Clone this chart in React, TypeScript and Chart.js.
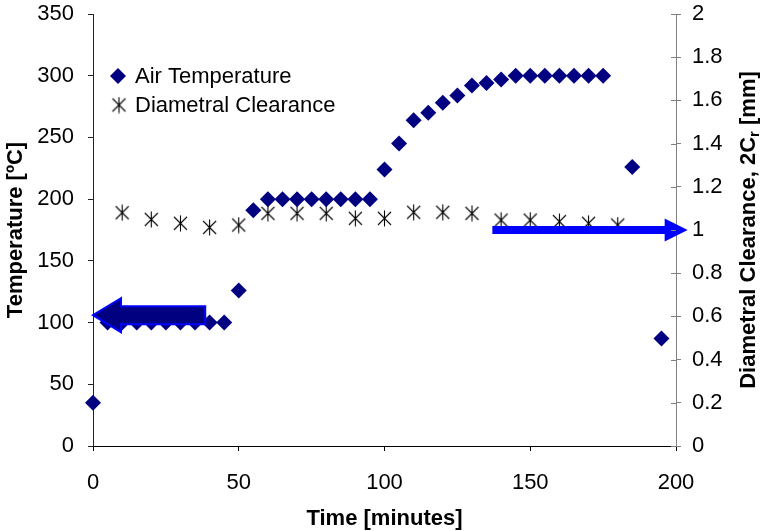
import React, { useEffect, useRef } from 'react';
import { Chart, registerables } from 'chart.js';

Chart.register(...registerables);

// ---- Data ----
const tempTimes = [0, 5, 10, 15, 20, 25, 30, 35, 40, 45, 50, 55, 60, 65, 70, 75, 80, 85, 90, 95, 100, 105, 110, 115, 120, 125, 130, 135, 140, 145, 150, 155, 160, 165, 170, 175, 185, 195];
const airTemperature = [35, 100, 100, 100, 100, 100, 100, 100, 100, 100, 126, 191, 200, 200, 200, 200, 200, 200, 200, 200, 224, 245, 264, 270, 278, 284, 292, 294, 297, 300, 300, 300, 300, 300, 300, 300, 226, 87];

const clearanceTimes = [10, 20, 30, 40, 50, 60, 70, 80, 90, 100, 110, 120, 130, 140, 150, 160, 170, 180];
const diametralClearance = [1.08, 1.049, 1.031, 1.012, 1.023, 1.077, 1.077, 1.077, 1.054, 1.054, 1.082, 1.082, 1.077, 1.046, 1.046, 1.039, 1.031, 1.023];

const seriesLabels = ['Air Temperature', 'Diametral Clearance'];

const xTickValues = [0, 50, 100, 150, 200];
const xTickLabels = ['0', '50', '100', '150', '200'];
const tempTickValues = [0, 50, 100, 150, 200, 250, 300, 350];
const tempTickLabels = ['0', '50', '100', '150', '200', '250', '300', '350'];
const clearTickValues = [0, 0.2, 0.4, 0.6, 0.8, 1, 1.2, 1.4, 1.6, 1.8, 2];
const clearTickLabels = ['0', '0.2', '0.4', '0.6', '0.8', '1', '1.2', '1.4', '1.6', '1.8', '2'];

const xTitle = 'Time [minutes]';
const yTitle = 'Temperature [ºC]';
const y1TitleParts = ['Diametral Clearance, 2C', 'r', ' [mm]'];

// Annotation arrows (in data units)
const leftArrow = { from: 38.5, to: 0, value: 106 }; // on temperature axis
const rightArrow = { from: 137, to: 204, value: 1.0 }; // on clearance axis

const FONT = '"Liberation Sans", Arial, Helvetica, sans-serif';
const NAVY = '#000080';

function makeAsterisk(): HTMLCanvasElement {
  const c = document.createElement('canvas');
  const s = 17;
  c.width = s;
  c.height = s;
  const g = c.getContext('2d')!;
  g.strokeStyle = '#000000';
  g.lineWidth = 1.1;
  g.beginPath();
  g.moveTo(2, 2); g.lineTo(15, 15);
  g.moveTo(15, 2); g.lineTo(2, 15);
  g.moveTo(8.5, 0.5); g.lineTo(8.5, 16.5);
  g.stroke();
  return c;
}

function drawDiamond(ctx: CanvasRenderingContext2D, x: number, y: number, r: number) {
  ctx.beginPath();
  ctx.moveTo(x, y - r);
  ctx.lineTo(x + r, y);
  ctx.lineTo(x, y + r);
  ctx.lineTo(x - r, y);
  ctx.closePath();
  ctx.fillStyle = NAVY;
  ctx.fill();
}

const annotPlugin = {
  id: 'annotations',
  afterDatasetsDraw(chart: any) {
    const { ctx, scales } = chart;
    const xs = scales.x, ys = scales.y, y1s = scales.y1;
    ctx.save();
    // Left arrow (navy fill, blue outline)
    {
      const tipX = xs.getPixelForValue(leftArrow.to);
      const tailX = xs.getPixelForValue(leftArrow.from);
      const cy = ys.getPixelForValue(leftArrow.value);
      const headBase = tipX + 28;
      const bh = 9, hh = 17;
      ctx.beginPath();
      ctx.moveTo(tipX, cy);
      ctx.lineTo(headBase, cy - hh);
      ctx.lineTo(headBase, cy - bh);
      ctx.lineTo(tailX, cy - bh);
      ctx.lineTo(tailX, cy + bh);
      ctx.lineTo(headBase, cy + bh);
      ctx.lineTo(headBase, cy + hh);
      ctx.closePath();
      ctx.fillStyle = NAVY;
      ctx.fill();
      ctx.strokeStyle = '#0000FF';
      ctx.lineWidth = 2;
      ctx.lineJoin = 'miter';
      ctx.stroke();
    }
    // Right arrow (blue)
    {
      const tipX = xs.getPixelForValue(rightArrow.to);
      const tailX = xs.getPixelForValue(rightArrow.from);
      const cy = y1s.getPixelForValue(rightArrow.value);
      const headBase = tipX - 23;
      const bh = 4, hh = 11.5;
      ctx.beginPath();
      ctx.moveTo(tipX, cy);
      ctx.lineTo(headBase, cy - hh);
      ctx.lineTo(headBase, cy - bh);
      ctx.lineTo(tailX, cy - bh);
      ctx.lineTo(tailX, cy + bh);
      ctx.lineTo(headBase, cy + bh);
      ctx.lineTo(headBase, cy + hh);
      ctx.closePath();
      ctx.fillStyle = '#0000FF';
      ctx.fill();
    }
    ctx.restore();
  },
  afterDraw(chart: any) {
    const { ctx, scales, chartArea } = chart;
    const y1s = scales.y1;
    ctx.save();
    // inner half of right axis ticks
    ctx.strokeStyle = '#808080';
    ctx.lineWidth = 1;
    ctx.beginPath();
    for (const v of clearTickValues) {
      const py = Math.round(y1s.getPixelForValue(v)) + 0.5;
      ctx.moveTo(chartArea.right - 5, py);
      ctx.lineTo(chartArea.right, py);
    }
    ctx.stroke();

    ctx.fillStyle = '#000';
    // X title
    ctx.font = `bold 22px ${FONT}`;
    ctx.textAlign = 'center';
    ctx.textBaseline = 'alphabetic';
    ctx.fillText(xTitle, (chartArea.left + chartArea.right) / 2, 525);
    // Left title
    const cy = (chartArea.top + chartArea.bottom) / 2;
    ctx.save();
    ctx.translate(22, cy);
    ctx.rotate(-Math.PI / 2);
    ctx.fillText(yTitle, 0, 0);
    ctx.restore();
    // Right title with subscript
    ctx.save();
    ctx.translate(755, cy);
    ctx.rotate(-Math.PI / 2);
    const mainFont = `bold 22px ${FONT}`;
    const subFont = `bold 15px ${FONT}`;
    ctx.font = mainFont;
    const w0 = ctx.measureText(y1TitleParts[0]).width;
    const w2 = ctx.measureText(y1TitleParts[2]).width;
    ctx.font = subFont;
    const w1 = ctx.measureText(y1TitleParts[1]).width;
    const total = w0 + w1 + w2;
    let px = -total / 2;
    ctx.textAlign = 'left';
    ctx.font = mainFont;
    ctx.fillText(y1TitleParts[0], px, 0);
    px += w0;
    ctx.font = subFont;
    ctx.fillText(y1TitleParts[1], px, 4);
    px += w1;
    ctx.font = mainFont;
    ctx.fillText(y1TitleParts[2], px, 0);
    ctx.restore();

    // Legend
    ctx.font = `22px ${FONT}`;
    ctx.textAlign = 'left';
    ctx.textBaseline = 'middle';
    drawDiamond(ctx, 118, 76, 8);
    ctx.fillStyle = '#000';
    ctx.fillText(chart.data.datasets[0].label, 135, 77);
    const ast = chart.data.datasets[1].pointStyle;
    ctx.drawImage(ast, 119 - ast.width / 2, 105 - ast.height / 2);
    ctx.fillText(chart.data.datasets[1].label, 135, 106);
    ctx.restore();
  },
};

export default function App() {
  const canvasRef = useRef<HTMLCanvasElement | null>(null);

  useEffect(() => {
    document.body.style.margin = '0';
    const canvas = canvasRef.current!;
    const asterisk = makeAsterisk();
    const tickFont = { family: FONT, size: 22 };

    const chart = new Chart(canvas, {
      type: 'scatter',
      data: {
        datasets: [
          {
            label: seriesLabels[0],
            data: tempTimes.map((t, i) => ({ x: t, y: airTemperature[i] })),
            yAxisID: 'y',
            pointStyle: 'rectRot',
            pointRadius: 8,
            pointBackgroundColor: NAVY,
            pointBorderColor: NAVY,
            pointBorderWidth: 0,
            showLine: false,
            clip: false as any,
          },
          {
            label: seriesLabels[1],
            data: clearanceTimes.map((t, i) => ({ x: t, y: diametralClearance[i] })),
            yAxisID: 'y1',
            pointStyle: asterisk as any,
            pointRadius: 8,
            showLine: false,
            clip: false as any,
          },
        ],
      },
      options: {
        responsive: false,
        animation: false,
        events: [],
        layout: { padding: { top: 14, right: 0, left: 0, bottom: 0 } },
        plugins: { legend: { display: false }, tooltip: { enabled: false } },
        scales: {
          x: {
            type: 'linear',
            min: 0,
            max: 200,
            afterBuildTicks: (s: any) => { s.ticks = xTickValues.map((v) => ({ value: v })); },
            afterFit: (s: any) => { s.height = 85; s.paddingLeft = 0; s.paddingRight = 0; },
            ticks: {
              font: tickFont,
              color: '#000',
              padding: 19,
              maxRotation: 0,
              callback: (_v: any, i: number) => xTickLabels[i],
            },
            grid: { drawOnChartArea: false, tickLength: 5, color: '#000' },
            border: { color: '#000', width: 1 },
          },
          y: {
            type: 'linear',
            position: 'left',
            min: 0,
            max: 350,
            afterBuildTicks: (s: any) => { s.ticks = tempTickValues.map((v) => ({ value: v })); },
            afterFit: (s: any) => { s.width = 93; s.paddingTop = 0; s.paddingBottom = 0; },
            ticks: {
              font: tickFont,
              color: '#000',
              padding: 14,
              callback: (_v: any, i: number) => tempTickLabels[i],
            },
            grid: { drawOnChartArea: false, tickLength: 5, color: '#222' },
            border: { color: '#222', width: 1 },
          },
          y1: {
            type: 'linear',
            position: 'right',
            min: 0,
            max: 2,
            afterBuildTicks: (s: any) => { s.ticks = clearTickValues.map((v) => ({ value: v })); },
            afterFit: (s: any) => { s.width = 86; s.paddingTop = 0; s.paddingBottom = 0; },
            ticks: {
              font: tickFont,
              color: '#000',
              padding: 11,
              callback: (_v: any, i: number) => clearTickLabels[i],
            },
            grid: { drawOnChartArea: false, tickLength: 5, color: '#808080' },
            border: { color: '#808080', width: 1 },
          },
        },
      },
      plugins: [annotPlugin],
    });
    return () => chart.destroy();
  }, []);

  return (
    <div style={{ width: 762, height: 531 }}>
      <canvas ref={canvasRef} width={762} height={531} style={{ display: 'block' }} />
    </div>
  );
}
